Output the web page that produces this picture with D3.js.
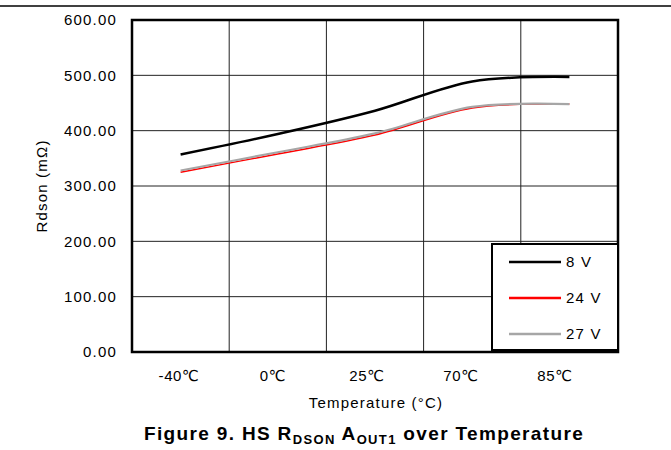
<!DOCTYPE html>
<html>
<head>
<meta charset="utf-8">
<script src="https://cdn.jsdelivr.net/npm/d3@7"></script>
<style>
  body { margin: 0; background: #fff; }
  svg text { font-family: "Liberation Sans", Arial, "DejaVu Sans", sans-serif; fill: #000; }
</style>
</head>
<body>
<svg id="chart" width="671" height="450"></svg>
<script>
// data
var temps = ['-40\u2103', '0\u2103', '25\u2103', '70\u2103', '85\u2103'];
var v8  = [357, 394, 436, 489, 497];
var v24 = [325, 358, 392, 441, 448];
var v27 = [328, 361, 395, 443, 448];
var yTicks = [0, 100, 200, 300, 400, 500, 600];
var seriesNames = ['8 V', '24 V', '27 V'];
var seriesColors = ['#000000', '#ff0000', '#a6a6a6'];

var svg = d3.select('#chart');
var plotL = 132, plotR = 618, plotT = 20, plotB = 352;

var x = d3.scaleBand().domain(temps).range([plotL, plotR]);
var y = d3.scaleLinear().domain([0, 600]).range([plotB, plotT]);
// category labels in the source sit a little tighter than the bands
var xLab = d3.scalePoint().domain(temps).range([179, 555]);

// header rule on the page
svg.append('line')
  .attr('x1', 0).attr('x2', 671).attr('y1', 6).attr('y2', 6)
  .attr('stroke', '#000').attr('stroke-width', 1.5);

// gridlines
svg.append('g').selectAll('line').data(yTicks.slice(1, -1)).enter().append('line')
  .attr('x1', plotL).attr('x2', plotR)
  .attr('y1', function(d){ return y(d); }).attr('y2', function(d){ return y(d); })
  .attr('stroke', '#222').attr('stroke-width', 1);

svg.append('g').selectAll('line').data(temps.slice(1)).enter().append('line')
  .attr('x1', function(d){ return x(d); }).attr('x2', function(d){ return x(d); })
  .attr('y1', plotT).attr('y2', plotB)
  .attr('stroke', '#222').attr('stroke-width', 1);

// series lines, smoothed like the spreadsheet chart
var line = d3.line()
  .x(function(d, i){ return x(temps[i]) + x.bandwidth() / 2; })
  .y(function(d){ return y(d); })
  .curve(d3.curveCatmullRom.alpha(0));

var series = [v8, v24, v27];
var widths = [2.5, 1.5, 2.2];
series.forEach(function(s, i){
  svg.append('path')
    .attr('d', line(s))
    .attr('fill', 'none')
    .attr('stroke', seriesColors[i])
    .attr('stroke-width', widths[i]);
});

// plot frame
svg.append('rect')
  .attr('x', plotL).attr('y', plotT)
  .attr('width', plotR - plotL).attr('height', plotB - plotT)
  .attr('fill', 'none').attr('stroke', '#000').attr('stroke-width', 2.5);

// y axis labels
svg.append('g').selectAll('text').data(yTicks).enter().append('text')
  .attr('x', 117).attr('y', function(d){ return y(d); })
  .attr('dy', '0.36em')
  .attr('text-anchor', 'end')
  .style('font-size', '15px').style('letter-spacing', '1.2px')
  .text(function(d){ return d3.format('.2f')(d); });

// x axis labels
svg.append('g').selectAll('text').data(temps).enter().append('text')
  .attr('x', function(d){ return xLab(d); })
  .attr('y', 381)
  .attr('text-anchor', 'middle')
  .style('font-size', '15px').style('letter-spacing', '0.6px')
  .text(function(d){ return d; });

// axis titles
svg.append('text')
  .attr('x', 376).attr('y', 408)
  .attr('text-anchor', 'middle')
  .style('font-size', '15px').style('letter-spacing', '1.2px')
  .text('Temperature (\u00b0C)');

svg.append('text')
  .attr('transform', 'translate(47,' + ((plotT + plotB) / 2) + ') rotate(-90)')
  .attr('text-anchor', 'middle')
  .style('font-size', '15px').style('letter-spacing', '1.2px')
  .text('Rdson (m\u03a9)');

// legend
var lg = svg.append('g');
lg.append('rect')
  .attr('x', 492).attr('y', 244).attr('width', 126).attr('height', 106)
  .attr('fill', '#fff').attr('stroke', '#000').attr('stroke-width', 2);
var rows = [262, 298, 334];
seriesNames.forEach(function(n, i){
  lg.append('line')
    .attr('x1', 509).attr('x2', 561).attr('y1', rows[i]).attr('y2', rows[i])
    .attr('stroke', seriesColors[i]).attr('stroke-width', 2.5);
  lg.append('text')
    .attr('x', 566).attr('y', rows[i]).attr('dy', '0.36em')
    .style('font-size', '15px').style('letter-spacing', '1.2px')
    .text(n);
});

// figure caption
var cap = svg.append('text')
  .attr('x', 364).attr('y', 440)
  .attr('text-anchor', 'middle')
  .style('font-size', '19px').style('font-weight', 'bold').style('letter-spacing', '1.35px');
cap.append('tspan').text('Figure 9. HS R');
cap.append('tspan').attr('dy', 4).style('font-size', '13px').text('DSON');
cap.append('tspan').attr('dy', -4).text(' A');
cap.append('tspan').attr('dy', 4).style('font-size', '13px').text('OUT1');
cap.append('tspan').attr('dy', -4).text(' over Temperature');
</script>
</body>
</html>
